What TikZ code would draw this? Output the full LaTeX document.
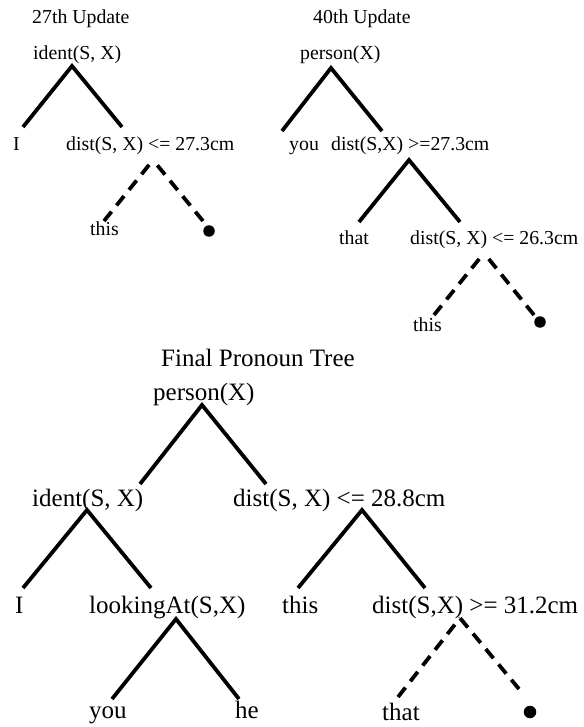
\documentclass[tikz,border=0pt]{standalone}
\usepackage{fontspec}
\setmainfont{Liberation Serif}
\begin{document}
\begin{tikzpicture}[x=1pt, y=-1pt,
  toplbl/.style={font=\fontsize{19.8}{22}\selectfont, anchor=base west, inner sep=0pt},
  botlbl/.style={font=\fontsize{25}{28}\selectfont, anchor=base west, inner sep=0pt},
  branch/.style={line width=3.8pt},
  openbranch/.style={line width=3.8pt, dash pattern=on 12pt off 8pt},
  leafdot/.style={circle, fill=black, inner sep=0pt, minimum size=11.5pt}]
\useasboundingbox (0,0) rectangle (583,727);

% ---------- 27th update ----------
\node[toplbl] (ttl1) at (32,24) {27th Update};
\node[toplbl] (id1) at (33,60) {ident(S, X)};
\node[toplbl] (i1) at (13,151) {I};
\node[toplbl] (d1) at (66,151) {dist(S, X) <= 27.3cm};
\node[toplbl] (this1) at (90,236) {this};
\node[leafdot] (dot1) at (209,231) {};
\coordinate (id1a) at (72,66);
\coordinate (i1t) at (23,127);
\coordinate (d1t) at (122,127);
\draw[branch] (i1t) -- (id1a) -- (d1t);
\coordinate (d1a) at (153,160);
\coordinate (this1t) at (104,221);
\coordinate (dot1t) at (203,221);
% dashes are laid out from the leaf end upwards
\draw[openbranch] (this1t) -- (d1a);
\draw[openbranch] (dot1t) -- (d1a);

% ---------- 40th update ----------
\node[toplbl] (ttl2) at (313,24) {40th Update};
\node[toplbl] (p2) at (300,60) {person(X)};
\node[toplbl] (you2) at (289,151) {you};
\node[toplbl] (d2) at (331,151) {dist(S,X) >=27.3cm};
\node[toplbl] (that2) at (339,244) {that};
\node[toplbl] (e2) at (410,244) {dist(S, X) <= 26.3cm};
\node[toplbl] (this2) at (413,331) {this};
\node[leafdot] (dot2) at (540,322) {};
\coordinate (p2a) at (331,68);
\coordinate (you2t) at (282,131);
\coordinate (d2t) at (382,131);
\draw[branch] (you2t) -- (p2a) -- (d2t);
\coordinate (d2a) at (409,160);
\coordinate (that2t) at (359,222);
\coordinate (e2t) at (460,222);
\draw[branch] (that2t) -- (d2a) -- (e2t);
\coordinate (e2a) at (484,253);
\coordinate (this2t) at (434,315);
\coordinate (dot2t) at (534,315);
\draw[openbranch] (this2t) -- (e2a);
\draw[openbranch] (dot2t) -- (e2a);

% ---------- final pronoun tree ----------
\node[botlbl] (ttl3) at (161,366) {Final Pronoun Tree};
\node[botlbl] (p3) at (153,400) {person(X)};
\node[botlbl] (id3) at (32,506) {ident(S, X)};
\node[botlbl] (d3) at (233,506) {dist(S, X) <= 28.8cm};
\node[botlbl] (i3) at (15,613) {I};
\node[botlbl] (look3) at (89,613) {lookingAt(S,X)};
\node[botlbl] (this3) at (282,613) {this};
\node[botlbl] (e3) at (372,613) {dist(S,X) >= 31.2cm};
\node[botlbl] (you3) at (89,718) {you};
\node[botlbl] (he3) at (235,718) {he};
\node[botlbl] (that3) at (382,720) {that};
\node[leafdot, minimum size=12.5pt] (dot3) at (530,712) {};

\coordinate (p3a) at (202,405);
\coordinate (id3t) at (140,484);
\coordinate (d3t) at (266,484);
\draw[branch] (id3t) -- (p3a) -- (d3t);
\coordinate (id3a) at (87,510);
\coordinate (i3t) at (23,588);
\coordinate (look3t) at (151,588);
\draw[branch] (i3t) -- (id3a) -- (look3t);
\coordinate (d3a) at (362,510);
\coordinate (this3t) at (298,588);
\coordinate (e3t) at (425,588);
\draw[branch] (this3t) -- (d3a) -- (e3t);
\coordinate (look3a) at (176,619);
\coordinate (you3t) at (112,699);
\coordinate (he3t) at (239,699);
\draw[branch] (you3t) -- (look3a) -- (he3t);
\coordinate (e3a) at (460,618);
\coordinate (that3t) at (398,697);
\coordinate (dot3t) at (519,689);
\draw[openbranch] (that3t) -- (e3a);
\draw[openbranch] (dot3t) -- (e3a);
\end{tikzpicture}
\end{document}
